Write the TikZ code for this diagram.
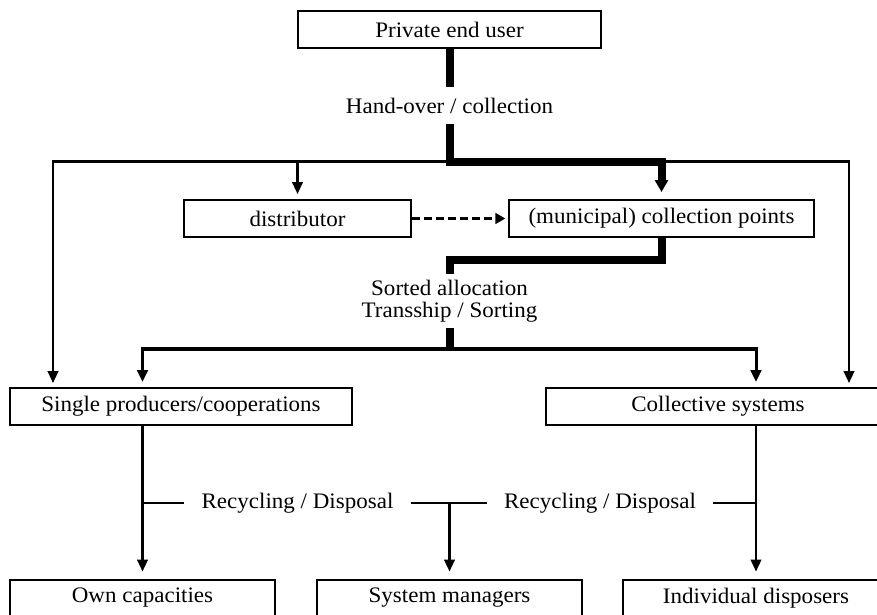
\documentclass[tikz,border=0pt]{standalone}
\usepackage{fontspec}
\setmainfont{Liberation Serif}[FakeStretch=1.04]
\usetikzlibrary{arrows.meta}
\begin{document}
\begin{tikzpicture}[x=0.75pt,y=-0.75pt,
  every node/.style={font=\fontsize{16.6pt}{16.5pt}\selectfont},
  box/.style={draw,line width=1.5pt,inner sep=0pt,minimum height=27.75pt},
  lbl/.style={inner xsep=12.75pt,inner ysep=2pt},
  thinline/.style={line width=1.6pt},
  thinarrow/.style={line width=1.6pt,-{Triangle[length=9pt,width=8pt]},shorten >=3.75pt},
  midarrow/.style={line width=2.25pt,-{Triangle[length=9pt,width=8pt]},shorten >=3.75pt},
  midline/.style={line width=3pt,line cap=rect},
  heavyline/.style={line width=6pt},
  heavyarrow/.style={line width=6pt,-{Triangle[length=9pt,width=9.75pt]},shorten >=5.25pt},
  dasharrow/.style={line width=2.25pt,dash pattern=on 6pt off 3pt,
    -{Triangle[length=7.5pt,width=8pt]},shorten >=2pt}]
\useasboundingbox (0,0) rectangle (877,614);
\clip (0,0) rectangle (877,614);

% boxes
\node[box,minimum width=227.25pt] (user) at (449.5,29.5) {Private end user};
\node[box,minimum width=170.25pt] (dist) at (297.5,218.5) {distributor};
\node[box,minimum width=228.75pt] (coll) at (661.5,218.5) {(municipal) collection points};
\node[box,minimum width=256.5pt] (single) at (181,406.5) {Single producers/cooperations};
\node[box,minimum width=258pt] (collective) at (718,406.5) {Collective systems};
\node[box,minimum width=198.75pt] (own) at (142.5,598) {Own capacities};
\node[box,minimum width=198.75pt] (sysm) at (449.5,598) {System managers};
\node[box,minimum width=199.5pt] (indiv) at (756,598) {Individual disposers};

% flow labels
\node (hand) at (449.5,106) {Hand-over / collection};
\node[align=center] (sorted) at (449.5,301) {Sorted allocation\\Transship / Sorting};
\node[lbl] (rec1) at (297.5,503) {Recycling / Disposal};
\node[lbl] (rec2) at (600,503) {Recycling / Disposal};

% junction points of the main flow
\coordinate (h1) at (449.5,87);
\coordinate (h2) at (449.5,124);
\coordinate (t) at (449.5,161.5);
\coordinate (c1) at (449.5,260);
\coordinate (c2) at (449.5,274);
\coordinate (c3) at (449.5,328);
\coordinate (c4) at (449.5,349);
\coordinate (sl) at (53,388);
\coordinate (sr) at (849,388);

% hand-over / collection
\draw[thinarrow] (t) -| (sl);
\draw[thinarrow] (t) -| (sr);
\draw[thinarrow] (dist.north |- t) -- (dist.north);
\draw[heavyline] (user.south) -- (h1);
\draw[heavyarrow] (h2) -- (t) -| (coll.north);
\draw[dasharrow] (dist.east) -- (coll.west);

% sorted allocation
\draw[heavyline] (coll.south) |- (c1) -- (c2);
\draw[heavyline] (c3) -- (c4);
\draw[midline] (own.north |- c4) -- (indiv.north |- c4);
\draw[midarrow] (own.north |- c4) -- (single.north -| own.north);
\draw[midarrow] (indiv.north |- c4) -- (collective.north -| indiv.north);

% recycling / disposal
\draw[thinarrow] (single.south -| own.north) -- ([yshift=1.5pt]own.north);
\draw[thinarrow] (collective.south -| indiv.north) -- ([yshift=1.5pt]indiv.north);
\draw[thinline] (own.north |- rec1.west) -- (rec1.west);
\draw[thinline] (rec1.east) -- (rec2.west);
\draw[thinline] (rec2.east) -- (indiv.north |- rec2.east);
\draw[thinarrow] (sysm.north |- rec1.east) -- ([yshift=1.5pt]sysm.north);
\end{tikzpicture}
\end{document}
